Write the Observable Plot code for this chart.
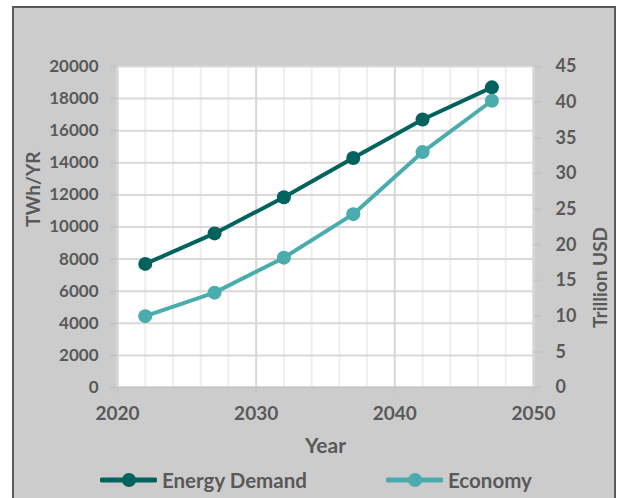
<!DOCTYPE html>
<html>
<head>
<meta charset="utf-8">
<script src="https://cdn.jsdelivr.net/npm/d3@7"></script>
<script src="https://cdn.jsdelivr.net/npm/@observablehq/plot@0.6"></script>
<style>
  html, body { margin: 0; padding: 0; background: #ffffff; }
  #wrap { position: relative; width: 620px; height: 498px; overflow: hidden; font-family: Lato, "Open Sans", sans-serif; }
  #panel { position: absolute; left: 12px; top: 6px; width: 604px; height: 510px; box-sizing: border-box;
           border: 2px solid #5a5a5a; background: #cccccc; }
  #chart { position: absolute; left: 0; top: 0; }
  #legend { position: absolute; left: 0; top: 466px; width: 620px; height: 28px; }
  .item { position: absolute; top: 0; height: 28px; display: flex; align-items: center;
          font-size: 20.5px; font-weight: bold; color: #595959; }
  .item svg { margin-right: 5px; }
</style>
</head>
<body>
<div id="wrap">
  <div id="panel"></div>
  <div id="chart"></div>
  <div id="legend"></div>
</div>
<script>
// Projected series, one point every five years
const years = [2022, 2027, 2032, 2037, 2042, 2047];
const energyDemand = [7700, 9600, 11850, 14300, 16700, 18700]; // TWh/YR (left axis)
const economy = [10, 13.3, 18.2, 24.3, 33, 40.2];              // Trillion USD (right axis)

const seriesNames = ["Energy Demand", "Economy"];
const seriesColors = ["#02625e", "#4aacac"];

const leftTicks = d3.range(0, 20001, 2000);
const rightTicks = d3.range(0, 46, 5);
const yearTicks = [2020, 2030, 2040, 2050];
const minorYears = d3.range(2020, 2051, 2);

// The right axis (0–45) is drawn on the same y scale as the left (0–20000)
const k = 20000 / 45;

const energyRows = years.map((year, i) => ({year, value: energyDemand[i]}));
const economyRows = years.map((year, i) => ({year, value: economy[i] * k}));

const textColor = "#595959";
const font = "Lato, 'Open Sans', sans-serif";

const chart = Plot.plot({
  width: 620,
  height: 462,
  marginLeft: 117,
  marginRight: 87,
  marginTop: 66,
  marginBottom: 75,
  style: {background: "transparent", fontFamily: font, overflow: "visible"},
  x: {domain: [2020, 2050]},
  y: {domain: [0, 20000]},
  marks: [
    Plot.frame({fill: "white", stroke: null}),
    Plot.ruleX(minorYears, {stroke: "#eeeeee", strokeWidth: 2}),
    Plot.ruleX(yearTicks, {stroke: "#d9d9d9", strokeWidth: 2}),
    Plot.ruleY(leftTicks, {stroke: "#d9d9d9", strokeWidth: 2}),
    Plot.ruleY([0], {stroke: "#c4c4c4", strokeWidth: 2}),
    Plot.ruleX([2020, 2050], {stroke: "#d4d4d4", strokeWidth: 1.5}),
    Plot.axisY({
      anchor: "left", ticks: leftTicks, tickSize: 7, tickPadding: 12,
      tickFormat: d => String(d), label: null,
      fontSize: 17, fontWeight: "bold", fill: textColor, stroke: "#c4c4c4", strokeWidth: 2
    }),
    Plot.axisY({
      anchor: "right", ticks: rightTicks.map(v => v * k), tickSize: 8, tickPadding: 14,
      tickFormat: d => String(Math.round(d / k)), label: null,
      fontSize: 18, fontWeight: "bold", fill: textColor, stroke: "#c4c4c4", strokeWidth: 2
    }),
    Plot.axisX({
      ticks: yearTicks, tickSize: 6, tickPadding: 13,
      tickFormat: d => String(d), label: null,
      fontSize: 19, fontWeight: "bold", fill: textColor, stroke: "#c4c4c4", strokeWidth: 2
    }),
    Plot.text(["Year"], {frameAnchor: "bottom", dy: 65, fontSize: 21, fontWeight: "bold", fill: textColor}),
    Plot.text(["TWh/YR"], {frameAnchor: "left", dx: -84, rotate: -90, fontSize: 19, fontWeight: "bold", fill: textColor}),
    Plot.text(["Trillion USD"], {frameAnchor: "right", dx: 67, rotate: -90, fontSize: 19, fontWeight: "bold", fill: textColor}),
    Plot.line(energyRows, {x: "year", y: "value", stroke: seriesColors[0], strokeWidth: 4}),
    Plot.dot(energyRows, {x: "year", y: "value", r: 7, fill: seriesColors[0]}),
    Plot.line(economyRows, {x: "year", y: "value", stroke: seriesColors[1], strokeWidth: 4}),
    Plot.dot(economyRows, {x: "year", y: "value", r: 7, fill: seriesColors[1]})
  ]
});
document.getElementById("chart").append(chart);

// Legend: line-and-marker swatch followed by the series name
const legendX = [100, 386];
const legend = document.getElementById("legend");
seriesNames.forEach((name, i) => {
  const item = document.createElement("div");
  item.className = "item";
  item.style.left = legendX[i] + "px";
  item.innerHTML =
    `<svg width="57" height="28"><line x1="2" x2="55" y1="14" y2="14" stroke="${seriesColors[i]}" stroke-width="5" stroke-linecap="round"/>` +
    `<circle cx="29" cy="14" r="7" fill="${seriesColors[i]}"/></svg><span>${name}</span>`;
  legend.append(item);
});
</script>
</body>
</html>
